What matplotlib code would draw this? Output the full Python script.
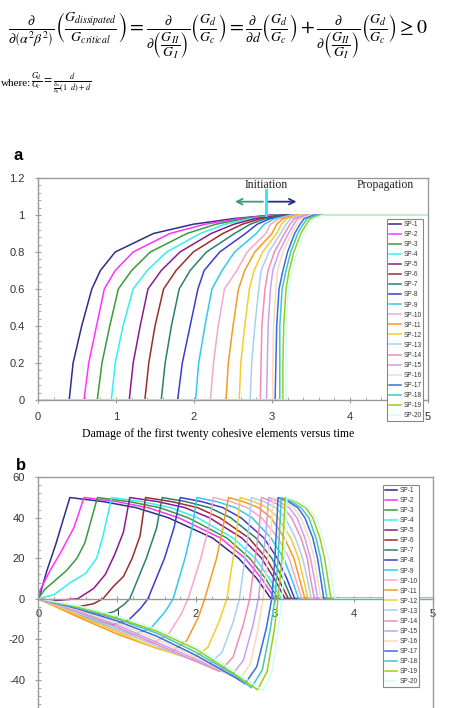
import numpy as np
import matplotlib.pyplot as plt
from matplotlib.ticker import MultipleLocator

plt.rcParams['font.family'] = ['Liberation Sans', 'DejaVu Sans']
plt.rcParams['mathtext.fontset'] = 'stix'

names = ['SP-%d' % k for k in range(1, 21)]
colors = ['#2b2f86', '#ff33ff', '#3b9a3b', '#33f0f0', '#8b1a8b', '#9b2d2d', '#2a8070',
          '#3c3ccf', '#33c8f0', '#f7a8c8', '#f59a23', '#f5cc30', '#a8d0f5', '#f58cb8',
          '#c9a0f0', '#f9d9c0', '#3a6ae0', '#3ec8c0', '#9ccc1a', '#ccfff8']

# (a) damage levels and the time at which each element reaches them
dmg_levels = [0, 0.2, 0.4, 0.6, 0.7, 0.8, 0.9, 0.95, 0.98, 1.0]
dmg_times = [
    [0.40, 0.45, 0.56, 0.69, 0.80, 0.99, 1.48, 1.99, 2.50, 3.00],
    [0.59, 0.65, 0.75, 0.85, 0.99, 1.22, 1.69, 2.14, 2.58, 3.03],
    [0.76, 0.82, 0.92, 1.03, 1.20, 1.44, 1.91, 2.28, 2.65, 3.06],
    [0.94, 0.99, 1.09, 1.22, 1.40, 1.65, 2.08, 2.40, 2.72, 3.09],
    [1.17, 1.22, 1.31, 1.41, 1.58, 1.82, 2.22, 2.51, 2.78, 3.12],
    [1.37, 1.42, 1.50, 1.61, 1.77, 1.99, 2.37, 2.62, 2.85, 3.15],
    [1.58, 1.63, 1.71, 1.81, 1.95, 2.16, 2.52, 2.72, 2.91, 3.18],
    [1.79, 1.85, 1.95, 2.05, 2.13, 2.33, 2.66, 2.81, 2.97, 3.21],
    [2.02, 2.06, 2.14, 2.23, 2.36, 2.52, 2.80, 2.90, 3.03, 3.24],
    [2.21, 2.25, 2.31, 2.39, 2.55, 2.68, 2.92, 2.98, 3.09, 3.27],
    [2.41, 2.44, 2.50, 2.57, 2.65, 2.78, 3.00, 3.06, 3.14, 3.30],
    [2.58, 2.60, 2.65, 2.71, 2.77, 2.88, 3.06, 3.12, 3.19, 3.34],
    [2.72, 2.74, 2.78, 2.83, 2.86, 2.96, 3.11, 3.18, 3.24, 3.38],
    [2.85, 2.86, 2.87, 2.91, 2.95, 3.03, 3.16, 3.23, 3.29, 3.42],
    [2.93, 2.94, 2.95, 2.98, 3.01, 3.09, 3.21, 3.28, 3.33, 3.46],
    [3.01, 3.01, 3.02, 3.05, 3.07, 3.14, 3.25, 3.32, 3.37, 3.50],
    [3.04, 3.05, 3.06, 3.09, 3.14, 3.20, 3.29, 3.36, 3.41, 3.54],
    [3.10, 3.10, 3.10, 3.13, 3.18, 3.24, 3.33, 3.40, 3.45, 3.58],
    [3.14, 3.14, 3.15, 3.18, 3.22, 3.28, 3.37, 3.44, 3.49, 3.62],
    [3.18, 3.18, 3.18, 3.21, 3.26, 3.32, 3.41, 3.48, 3.53, 3.66],
]

# (b) traction-like history of each element
b_time = [
    [0, 0.04, 0.11, 0.22, 0.40, 0.82, 1.24, 1.65, 2.21, 2.54, 2.77, 2.95, 5],
    [0, 0.02, 0.15, 0.28, 0.45, 0.58, 0.99, 1.39, 1.78, 2.31, 2.62, 2.83, 3.00, 5],
    [0, 0.08, 0.36, 0.49, 0.59, 0.75, 1.15, 1.54, 1.90, 2.39, 2.68, 2.88, 3.04, 5],
    [0, 0.2, 0.4, 0.6, 0.74, 0.82, 0.93, 1.31, 1.68, 2.02, 2.47, 2.75, 2.93, 3.08, 5],
    [0, 0.2, 0.5, 0.7, 0.85, 0.97, 1.08, 1.16, 1.51, 1.86, 2.17, 2.58, 2.83, 2.99, 3.13, 5],
    [0, 0.25, 0.5, 0.7, 0.82, 0.95, 1.08, 1.19, 1.29, 1.36, 1.69, 2.02, 2.30, 2.67, 2.89, 3.04, 3.17, 5],
    [0, 0.5, 0.8, 0.96, 1.09, 1.16, 1.37, 1.50, 1.57, 1.87, 2.17, 2.44, 2.76, 2.96, 3.10, 3.21, 5],
    [0, 0.5, 0.95, 1.15, 1.30, 1.39, 1.60, 1.72, 1.80, 2.07, 2.34, 2.57, 2.86, 3.03, 3.15, 3.25, 5],
    [0, 0.5, 1.0, 1.2, 1.43, 1.61, 1.71, 1.86, 1.95, 2.01, 2.26, 2.50, 2.71, 2.95, 3.11, 3.21, 3.30, 5],
    [0, 0.5, 1.0, 1.45, 1.65, 1.81, 1.90, 2.06, 2.16, 2.22, 2.44, 2.65, 2.83, 3.04, 3.18, 3.26, 3.34, 5],
    [0, 0.5, 1.0, 1.5, 1.7, 1.88, 2.03, 2.11, 2.26, 2.34, 2.41, 2.60, 2.79, 2.95, 3.12, 3.24, 3.31, 3.38, 5],
    [0, 0.5, 1.0, 1.5, 1.95, 2.15, 2.30, 2.39, 2.47, 2.52, 2.56, 2.73, 2.90, 3.04, 3.20, 3.30, 3.36, 3.42, 5],
    [0, 0.5, 1.0, 1.5, 2.0, 2.15, 2.33, 2.47, 2.55, 2.62, 2.67, 2.70, 2.86, 3.01, 3.13, 3.26, 3.35, 3.41, 3.46, 5],
    [0, 0.5, 1.0, 1.5, 2.0, 2.3, 2.47, 2.60, 2.68, 2.75, 2.80, 2.83, 2.97, 3.11, 3.21, 3.33, 3.41, 3.45, 3.50, 5],
    [0, 0.5, 1.0, 1.5, 2.0, 2.45, 2.60, 2.72, 2.79, 2.85, 2.89, 2.92, 3.05, 3.18, 3.28, 3.38, 3.45, 3.50, 3.54, 5],
    [0, 0.5, 1.0, 1.5, 2.0, 2.55, 2.69, 2.79, 2.85, 2.91, 2.95, 2.98, 3.11, 3.24, 3.33, 3.43, 3.50, 3.54, 3.58, 5],
    [0, 0.5, 1.0, 1.5, 2.0, 2.5, 2.62, 2.77, 2.89, 2.96, 3.00, 3.02, 3.04, 3.17, 3.29, 3.38, 3.48, 3.54, 3.58, 3.62, 5],
    [0, 0.5, 1.0, 1.5, 2.0, 2.5, 2.70, 2.84, 2.94, 3.00, 3.04, 3.06, 3.08, 3.21, 3.33, 3.43, 3.52, 3.58, 3.62, 3.66, 5],
    [0, 0.5, 1.0, 1.5, 2.0, 2.5, 2.78, 2.90, 2.99, 3.04, 3.09, 3.11, 3.13, 3.26, 3.39, 3.48, 3.57, 3.63, 3.67, 3.71, 5],
    [0, 0.5, 1.0, 1.5, 2.0, 2.5, 2.85, 2.96, 3.04, 3.09, 3.12, 3.14, 3.15, 3.29, 3.42, 3.52, 3.61, 3.68, 3.72, 3.76, 5],
]
b_value = [
    [0, 4.5, 14, 26.7, 50, 48, 45, 40, 30, 20, 10, 0, 0],
    [0, 4, 14, 22.6, 35, 50, 48, 45, 40, 30, 20, 10, 0, 0],
    [0, 4.5, 14, 20, 27.6, 50, 48, 45, 40, 30, 20, 10, 0, 0],
    [0, 2, 7.8, 12.5, 20, 31, 50, 48, 45, 40, 30, 20, 10, 0, 0],
    [0, -1, 0, 5, 12, 22, 33, 50, 48, 45, 40, 30, 20, 10, 0, 0],
    [0, -2.5, -4, -2.5, 0, 6, 11, 20, 31, 50, 48, 45, 40, 30, 20, 10, 0, 0],
    [0, -6, -8, -6.4, -2.8, 0, 20, 35, 50, 48, 45, 40, 30, 20, 10, 0, 0],
    [0, -8, -13, -10.4, -4.6, 0, 20, 35, 50, 48, 45, 40, 30, 20, 10, 0, 0],
    [0, -8, -15, -18, -14.4, -6.3, 0, 20, 35, 50, 48, 45, 40, 30, 20, 10, 0, 0],
    [0, -8.5, -16, -22, -17.6, -7.7, 0, 20, 35, 50, 48, 45, 40, 30, 20, 10, 0, 0],
    [0, -9, -17.5, -24.5, -26, -20.8, -9.1, 0, 20, 35, 50, 48, 45, 40, 30, 20, 10, 0, 0],
    [0, -8, -16.5, -24.5, -30, -24, -10.5, 0, 20, 35, 50, 48, 45, 40, 30, 20, 10, 0, 0],
    [0, -7, -15, -23.5, -31, -33, -26.4, -11.6, 0, 20, 35, 50, 48, 45, 40, 30, 20, 10, 0, 0],
    [0, -6.5, -14, -22.5, -31, -36, -28.8, -12.6, 0, 20, 35, 50, 48, 45, 40, 30, 20, 10, 0, 0],
    [0, -6, -13, -21.5, -30, -38, -30.4, -13.3, 0, 20, 35, 50, 48, 45, 40, 30, 20, 10, 0, 0],
    [0, -5.5, -12, -20, -29, -40, -32, -14, 0, 20, 35, 50, 48, 45, 40, 30, 20, 10, 0, 0],
    [0, -5, -11, -18.5, -28, -39, -42, -33.6, -14.7, 0, 20, 35, 50, 48, 45, 40, 30, 20, 10, 0, 0],
    [0, -4.5, -10, -17, -26.5, -38, -44, -35.2, -15.4, 0, 20, 35, 50, 48, 45, 40, 30, 20, 10, 0, 0],
    [0, -4, -9.5, -16, -25, -37.5, -45, -36, -15.8, 0, 20, 35, 50, 48, 45, 40, 30, 20, 10, 0, 0],
    [0, -3.5, -8.5, -15, -24, -36, -45.5, -36.4, -15.9, 0, 20, 35, 50, 48, 45, 40, 30, 20, 10, 0, 0],
]

a_yticks = [0, 0.2, 0.4, 0.6, 0.8, 1.0, 1.2]
a_ylabels = ['0', '0.2', '0.4', '0.6', '0.8', '1', '1.2']
b_yticks = [-40, -20, 0, 20, 40, 60]
b_ylabels = ['-40', '-20', '0', '20', '40', '60']
x_ticks = [0, 1, 2, 3, 4, 5]

W, H = 460, 708
fig = plt.figure(figsize=(W / 100, H / 100), dpi=100)

# equation block
eq = (r'$\frac{\partial}{\partial\left(\alpha^2\beta^2\right)}\left(\frac{G_{dissipated}}{G_{critical}}\right)'
      r'=\frac{\partial}{\partial\left(\dfrac{G_{II}}{G_I}\right)}\left(\frac{G_d}{G_c}\right)'
      r'=\frac{\partial}{\partial d}\left(\frac{G_d}{G_c}\right)'
      r'+\frac{\partial}{\partial\left(\dfrac{G_{II}}{G_I}\right)}\left(\frac{G_d}{G_c}\right)\geq 0$')
fig.text(8 / W, 1 - 36 / H, eq, fontsize=14.3, va='center', ha='left')
fig.text(1 / W, 1 - 84 / H, 'where:', fontsize=8, family='Liberation Serif', va='center')
fig.text(31 / W, 1 - 84 / H, r'$\frac{G_d}{G_c}=\frac{d}{\frac{\delta_m}{\delta_0}(1\ \ d)+d}$',
         fontsize=8.5, va='center')

fig.text(14 / W, 1 - 155 / H, 'a', fontsize=12, fontweight='bold', va='center')
fig.text(16 / W, 1 - 465 / H, 'b', fontsize=12, fontweight='bold', va='center')
fig.text(218 / W, 1 - 434 / H, 'Damage of the first twenty cohesive elements versus time',
         fontsize=8.5, family='Liberation Serif', ha='center', va='center')

spine_c = '#9a9a9a'
txt_c = '#333333'


def style(ax):
    for s in ax.spines.values():
        s.set_color(spine_c)
        s.set_linewidth(1.0)
    ax.tick_params(which='major', direction='inout', length=5, color=spine_c,
                   labelsize=8, labelcolor=txt_c)
    ax.tick_params(which='minor', direction='in', length=2.5, color=spine_c)
    ax.tick_params(axis='x', which='both', top=False)
    ax.tick_params(axis='y', which='both', right=False)
    ax.xaxis.set_minor_locator(MultipleLocator(0.2))
    ax.set_xticks(x_ticks)
    ax.set_xticklabels([str(v) for v in x_ticks])
    ax.set_xlim(0, 5)


# ---- (a)
ax1 = fig.add_axes([38 / W, 1 - 400 / H, 390 / W, 222 / H])
style(ax1)
for k in range(20):
    t = np.r_[0, dmg_times[k], 5]
    d = np.r_[0, dmg_levels, 1]
    ax1.plot(t, d, color=colors[k], lw=1.1, label=names[k], clip_on=False)
ax1.set_ylim(0, 1.2)
ax1.set_yticks(a_yticks)
ax1.set_yticklabels(a_ylabels)
ax1.yaxis.set_minor_locator(MultipleLocator(0.04))
ax1.tick_params(axis='y', pad=7)
ax1.tick_params(axis='x', pad=6)

ax1.plot([2.92, 2.92], [1.0, 1.135], color='#33e5ea', lw=2)
ax1.annotate('', xy=(2.49, 1.072), xytext=(2.92, 1.072),
             arrowprops=dict(arrowstyle='->', color='#3a9a7a', lw=1.3))
ax1.annotate('', xy=(3.35, 1.072), xytext=(2.92, 1.072),
             arrowprops=dict(arrowstyle='->', color='#2b2f86', lw=1.3))
ax1.text(2.92, 1.16, 'Initiation', family='Liberation Serif', fontsize=8.5,
         ha='center', va='center', color='#222222')
ax1.text(4.45, 1.16, 'Propagation', family='Liberation Serif', fontsize=8.5,
         ha='center', va='center', color='#222222')

leg_kw = dict(bbox_transform=fig.transFigure, fontsize=4.7, handlelength=1.9,
              handletextpad=0.3, labelspacing=0.47, borderpad=0.3,
              borderaxespad=0, fancybox=False, framealpha=1)
leg1 = ax1.legend(loc='upper left', bbox_to_anchor=(387 / W, 1 - 219 / H), **leg_kw)
leg1.get_frame().set_edgecolor('#888888')
leg1.get_frame().set_linewidth(0.8)
for tx in leg1.get_texts():
    tx.set_color(txt_c)

# ---- (b)
ax2 = fig.add_axes([38.3 / W, 1 - 710 / H, 394.4 / W, 232.7 / H])
style(ax2)
for k in range(20):
    ax2.plot(b_time[k], b_value[k], color=colors[k], lw=1.1, label=names[k])
ax2.set_ylim(-55, 60)
ax2.set_yticks(b_yticks)
ax2.set_yticklabels(b_ylabels)
ax2.yaxis.set_minor_locator(MultipleLocator(4))
ax2.spines['bottom'].set_position(('data', 0))
ax2.tick_params(axis='y', pad=7)
ax2.tick_params(axis='x', pad=5)

leg2 = ax2.legend(loc='upper left', bbox_to_anchor=(383 / W, 1 - 485 / H), **leg_kw)
leg2.get_frame().set_edgecolor('#888888')
leg2.get_frame().set_linewidth(0.8)
for tx in leg2.get_texts():
    tx.set_color(txt_c)

fig.savefig('out.png', dpi=100)
